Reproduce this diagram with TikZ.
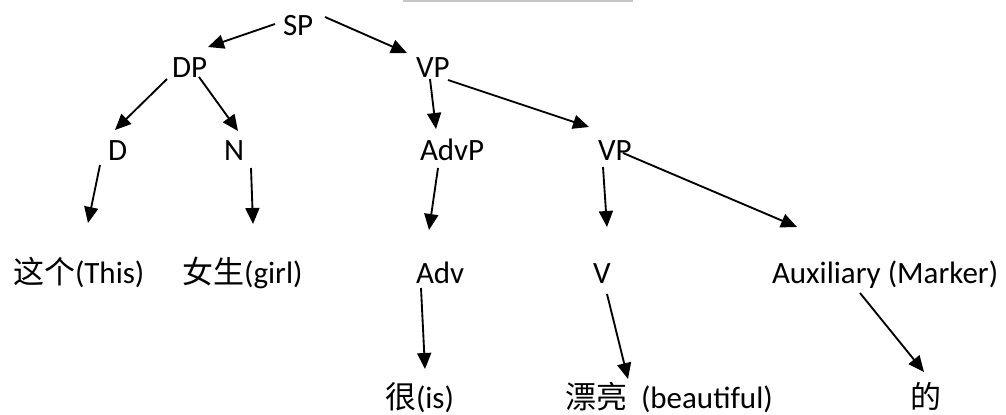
\documentclass[tikz,border=0pt]{standalone}
\usepackage{fontspec}
\setmainfont{Carlito}
\newfontfamily\cjk{Noto Sans CJK SC}
\usetikzlibrary{arrows.meta}
\begin{document}
\begin{tikzpicture}[x=0.75pt,y=-0.75pt,
  lbl/.style={anchor=base west,inner sep=0pt,outer sep=0pt,font=\fontsize{23.25}{28}\selectfont},
  arr/.style={line width=1.4pt,-{Triangle[length=12pt,width=10.5pt]}}]
\useasboundingbox (0,0) rectangle (1006,414);
\fill[gray!45] (403,0) rectangle (633,1.5);
% nodes
\node[lbl] (SP) at (283,36) {SP};
\node[lbl] (DP) at (172,77) {DP};
\node[lbl] (VPa) at (416,77) {VP};
\node[lbl] (D) at (108,160) {D};
\node[lbl] (N) at (224,160) {N};
\node[lbl] (AdvP) at (420,160) {AdvP};
\node[lbl] (VPb) at (598,160) {VP};
\node[lbl] (This) at (13,283) {{\cjk 这个}(This)};
\node[lbl] (girl) at (182,283) {{\cjk 女生}(girl)};
\node[lbl] (Adv) at (416,283) {Adv};
\node[lbl] (V) at (593,283) {V};
\node[lbl] (Aux) at (772,283) {Auxiliary (Marker)};
\node[lbl] (hen) at (385,408) {{\cjk 很}(is)};
\node[lbl] (pl) at (565,408) {{\cjk 漂亮}\ \ (beautiful)};
\node[lbl] (de) at (910,408) {\cjk 的};
% connectors
\draw[arr] ([shift={(-8,-12)}]SP.base west) -- ([shift={(36,-30)}]DP.base west);
\draw[arr] ([shift={(42,-19)}]SP.base west) -- ([shift={(-9,-24)}]VPa.base west);
\draw[arr] ([shift={(-5,2)}]DP.base west) -- ([shift={(7,-30)}]D.base west);
\draw[arr] ([shift={(27,0)}]DP.base west) -- ([shift={(14,-29)}]N.base west);
\draw[arr] ([shift={(14,2)}]VPa.base west) -- ([shift={(16,-31)}]AdvP.base west);
\draw[arr] ([shift={(32,3)}]VPa.base west) -- ([shift={(-9,-33)}]VPb.base west);
\draw[arr] ([shift={(-8,5)}]D.base west) -- ([shift={(75,-60)}]This.base west);
\draw[arr] ([shift={(27,8)}]N.base west) -- ([shift={(71,-59)}]girl.base west);
\draw[arr] ([shift={(18,8)}]AdvP.base west) -- ([shift={(13,-53)}]Adv.base west);
\draw[arr] ([shift={(5,7)}]VPb.base west) -- ([shift={(14,-56)}]V.base west);
\draw[arr] ([shift={(25,-7)}]VPb.base west) -- ([shift={(25,-56)}]Aux.base west);
\draw[arr] ([shift={(5,5)}]Adv.base west) -- ([shift={(40,-39)}]hen.base west);
\draw[arr] ([shift={(14,11)}]V.base west) -- ([shift={(63,-29)}]pl.base west);
\draw[arr] ([shift={(88,10)}]Aux.base west) -- ([shift={(14,-36)}]de.base west);
\end{tikzpicture}
\end{document}
